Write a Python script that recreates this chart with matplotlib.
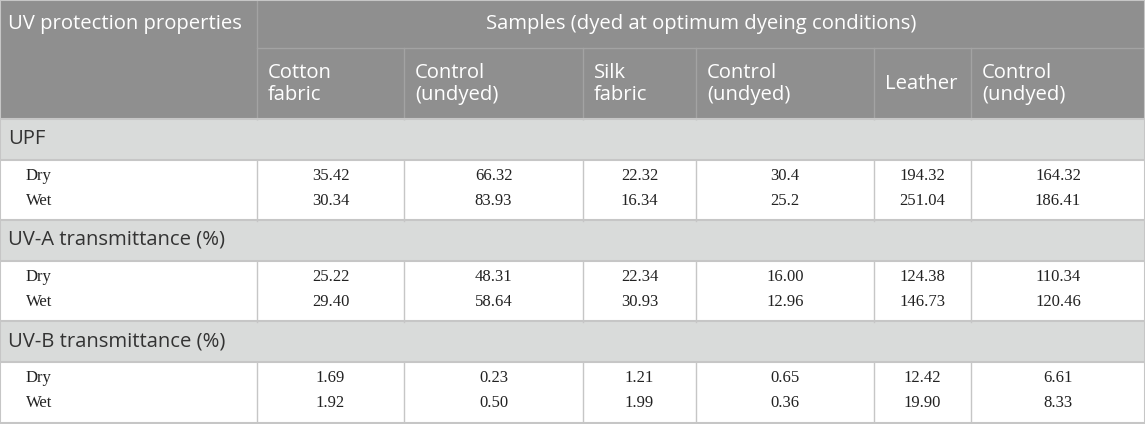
import matplotlib.pyplot as plt
from matplotlib.patches import Rectangle

# table content
col_heads = ["Cotton\nfabric", "Control\n(undyed)", "Silk\nfabric", "Control\n(undyed)", "Leather", "Control\n(undyed)"]
groups = ["UPF", "UV-A transmittance (%)", "UV-B transmittance (%)"]
conditions = ["Dry", "Wet"]
upf_dry = ["35.42", "66.32", "22.32", "30.4", "194.32", "164.32"]
upf_wet = ["30.34", "83.93", "16.34", "25.2", "251.04", "186.41"]
uva_dry = ["25.22", "48.31", "22.34", "16.00", "124.38", "110.34"]
uva_wet = ["29.40", "58.64", "30.93", "12.96", "146.73", "120.46"]
uvb_dry = ["1.69", "0.23", "1.21", "0.65", "12.42", "6.61"]
uvb_wet = ["1.92", "0.50", "1.99", "0.36", "19.90", "8.33"]
values = [[upf_dry, upf_wet], [uva_dry, uva_wet], [uvb_dry, uvb_wet]]

# layout in pixels
W, H = 1145, 424
xs = [0, 257, 404, 583, 696, 874, 971, 1145]
hdr_dark = "#8f8f8f"
grp_bg = "#d9dbda"
line_c = "#c6c6c6"
sans = "Open Sans"
serif = "Liberation Serif"
fs_sans = 14.6
fs_serif = 12

fig = plt.figure(figsize=(W / 100, H / 100), dpi=100)
ax = fig.add_axes([0, 0, 1, 1])
ax.set_xlim(0, W)
ax.set_ylim(H, 0)
ax.axis("off")

# header block
ax.add_patch(Rectangle((0, 0), W, 119, color=hdr_dark, lw=0))
ax.plot([xs[1], W], [48, 48], color="#a3a3a3", lw=1)
for x in xs[1:-1]:
    y0 = 0 if x == xs[1] else 48
    ax.plot([x, x], [y0, 119], color="#a3a3a3", lw=1)
ax.text(8, 24, "UV protection properties", color="white", fontsize=fs_sans,
        family=sans, va="center", ha="left")
ax.text((xs[1] + W) / 2, 24, "Samples (dyed at optimum dyeing conditions)",
        color="white", fontsize=fs_sans, family=sans, va="center", ha="center")
for i, h in enumerate(col_heads):
    ax.text(xs[i + 1] + 11, 84, h, color="white", fontsize=fs_sans, family=sans,
            va="center", ha="left", linespacing=1.15)

# body
grp_top = [119, 220, 321]
for g, name in enumerate(groups):
    top = grp_top[g]
    ax.add_patch(Rectangle((0, top), W, 41, color=grp_bg, lw=0))
    ax.text(8, top + 20, name, fontsize=fs_sans, family=sans, color="#333333",
            va="center", ha="left")
    ax.plot([0, W], [top, top], color=line_c, lw=1.5)
    ax.plot([0, W], [top + 41, top + 41], color=line_c, lw=1.5)
    for x in xs[1:-1]:
        ax.plot([x, x], [top + 41, top + 102], color=line_c, lw=1)
    for r, cond in enumerate(conditions):
        y = top + 57 + r * 25
        ax.text(26, y, cond, fontsize=fs_serif, family=serif, color="#222222",
                va="center", ha="left")
        for c, v in enumerate(values[g][r]):
            ax.text((xs[c + 1] + xs[c + 2]) / 2, y, v, fontsize=fs_serif,
                    family=serif, color="#222222", va="center", ha="center")

# outer border
ax.plot([0, W, W, 0, 0], [0, 0, H - 1, H - 1, 0], color=line_c, lw=1.5)

fig.savefig("out.png", dpi=100)
